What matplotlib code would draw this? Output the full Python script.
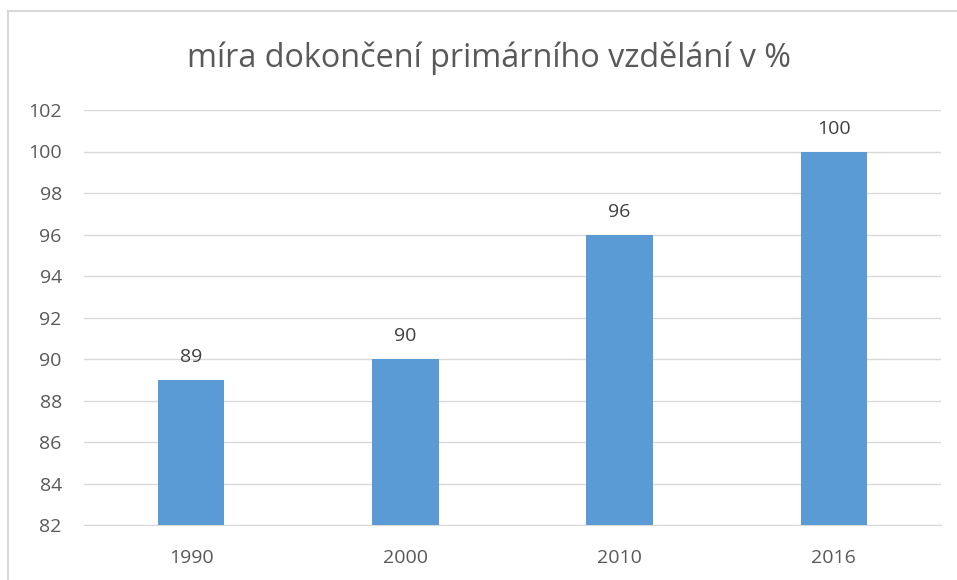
import matplotlib
matplotlib.use("Agg")
import matplotlib.pyplot as plt
from matplotlib.patches import Rectangle

years = ["1990", "2000", "2010", "2016"]
values = [89, 90, 96, 100]
yticks = [82, 84, 86, 88, 90, 92, 94, 96, 98, 100, 102]
title = "míra dokončení primárního vzdělání v %"

plt.rcParams['font.family'] = ['Open Sans', 'DejaVu Sans']

W, H = 957, 580
fig = plt.figure(figsize=(W/100, H/100), dpi=100)
fig.patch.set_facecolor("white")

# outer chart border
fig.patches.append(Rectangle((8/W, -0.05), 1.2, 1 - 11/H + 0.05, transform=fig.transFigure,
                             fill=False, edgecolor="#D9D9D9", linewidth=1.5))

ax = fig.add_axes([84/W, 1 - 525/H, (941-84)/W, (525-110)/H])
x = list(range(len(years)))
ax.bar(x, values, width=0.31, color="#5B9BD5", zorder=3, bottom=0)
ax.set_xlim(-0.5, len(years) - 0.5)
ax.set_ylim(82, 102)
ax.set_yticks(yticks)
ax.set_xticks(x)
ax.set_xticklabels(years)
ax.yaxis.grid(True, color="#D9D9D9", linewidth=1)
ax.set_axisbelow(True)
for s in ["top", "right", "left"]:
    ax.spines[s].set_visible(False)
ax.spines["bottom"].set_color("#D9D9D9")
ax.tick_params(axis="both", length=0, colors="#595959", labelsize=14)
ax.tick_params(axis="y", pad=16)
ax.tick_params(axis="x", pad=17)

for xi, v in zip(x, values):
    ax.annotate(str(v), (xi, v), xytext=(0, 10), textcoords="offset points",
                ha="center", va="bottom", fontsize=14, color="#404040")

fig.text((188+790)/2/W, 1 - 58/H, title, ha="center", va="center",
         fontsize=23.3, color="#595959")

fig.savefig("out.png", dpi=100)
